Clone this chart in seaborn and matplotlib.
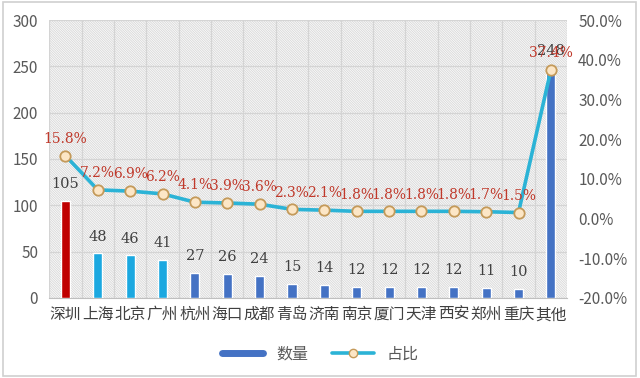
import matplotlib
matplotlib.use("Agg")
import matplotlib.pyplot as plt
import seaborn as sns
import pandas as pd
from matplotlib.patches import Rectangle
from matplotlib.lines import Line2D
from matplotlib.ticker import FuncFormatter

cities = ["深圳", "上海", "北京", "广州", "杭州", "海口", "成都", "青岛",
          "济南", "南京", "厦门", "天津", "西安", "郑州", "重庆", "其他"]
counts = [105, 48, 46, 41, 27, 26, 24, 15, 14, 12, 12, 12, 12, 11, 10, 248]
shares = [15.8, 7.2, 6.9, 6.2, 4.1, 3.9, 3.6, 2.3, 2.1, 1.8, 1.8, 1.8, 1.8, 1.7, 1.5, 37.4]
bar_colors = ["#C00000", "#1BA8E0", "#1BA8E0", "#1BA8E0"] + ["#4472C4"] * 12
left_ticks = [0, 50, 100, 150, 200, 250, 300]
right_ticks = [-20, -10, 0, 10, 20, 30, 40, 50]

sns.set_style("white")
plt.rcParams["font.family"] = ["Noto Sans CJK SC", "DejaVu Sans"]
plt.rcParams["hatch.linewidth"] = 0.7
plt.rcParams["hatch.color"] = "#d9d9d9"

df = pd.DataFrame({"city": cities, "count": counts, "share": shares})

fig = plt.figure(figsize=(6.4, 3.78), dpi=100)
fig.patches.append(Rectangle((0.004, 0.005), 0.99, 0.99, transform=fig.transFigure,
                             fill=False, edgecolor="#d0d0d0", lw=1.2, zorder=0))
ax = fig.add_axes([0.077, 0.212, 0.809, 0.735])

# hatched background
ax.add_patch(Rectangle((0, 0), 1, 1, transform=ax.transAxes, facecolor="white",
                       hatch="\\" * 14, edgecolor="#dadada", lw=0, zorder=0))

sns.barplot(data=df, x="city", y="count", hue="city", palette=bar_colors,
            legend=False, width=0.28, ax=ax, zorder=3, saturation=1)
ax.set_ylim(0, 300)
ax.set_xlim(-0.5, len(cities) - 0.5)
ax.set_yticks(left_ticks)
ax.set_xlabel("")
ax.set_ylabel("")
# grid
for y in left_ticks:
    ax.axhline(y, color="#d4d4d4", lw=0.9, zorder=1)
for i in range(len(cities) + 1):
    ax.axvline(i - 0.5, color="#d4d4d4", lw=0.9, zorder=1)
for s in ["top", "right", "left"]:
    ax.spines[s].set_visible(False)
ax.spines["bottom"].set_color("#bfbfbf")
ax.tick_params(axis="both", length=0, colors="#595959")
ax.tick_params(axis="y", labelsize=11, pad=8)
ax.tick_params(axis="x", labelsize=11.3, pad=6)
for lbl in ax.get_xticklabels():
    lbl.set_color("#404040")

bars = [p for p in ax.patches if isinstance(p, Rectangle) and p.get_height() > 0 and p.get_width() < 0.5]
for p in bars:
    h = p.get_height()
    ax.annotate(f"{int(round(h))}", (p.get_x() + p.get_width() / 2, h),
                xytext=(0, 7), textcoords="offset points", ha="center", va="bottom",
                fontsize=10.5, color="#404040", family=["DejaVu Serif"], zorder=6)

ax2 = ax.twinx()
sns.pointplot(data=df, x="city", y="share", ax=ax2, color="#2BB3D6",
              markers="o", linestyles="-", linewidth=2.6, markersize=7.5)
for ln in ax2.lines:
    ln.set_markerfacecolor("#FCE6C6")
    ln.set_markeredgecolor("#C49A5A")
    ln.set_markeredgewidth(1.3)
    ln.set_zorder(4)
ax2.set_ylim(-20, 50)
ax2.set_xlim(-0.5, len(cities) - 0.5)
ax2.set_yticks(right_ticks)
ax2.yaxis.set_major_formatter(FuncFormatter(lambda v, _: f"{v:.1f}%"))
ax2.set_ylabel("")
ax2.set_xlabel("")
for s in ["top", "right", "left", "bottom"]:
    ax2.spines[s].set_visible(False)
ax2.tick_params(axis="y", length=0, colors="#595959", labelsize=11, pad=8)
for i, v in enumerate(shares):
    ax2.annotate(f"{v:.1f}%", (i, v), xytext=(0, 7), textcoords="offset points",
                 ha="center", va="bottom", fontsize=10, color="#C0392B",
                 family=["DejaVu Serif"], zorder=7)

handles = [Line2D([0], [0], color="#4472C4", lw=5),
           Line2D([0], [0], color="#2BB3D6", lw=2.6, marker="o", markersize=6,
                  markerfacecolor="#FCE6C6", markeredgecolor="#C49A5A")]
fig.legend(handles, ["数量", "占比"], loc="center", bbox_to_anchor=(0.5, 0.063),
           ncol=2, frameon=False, fontsize=11.5, handlelength=2.6, columnspacing=1.5,
           labelcolor="#595959")

fig.savefig("out.png", dpi=100)
